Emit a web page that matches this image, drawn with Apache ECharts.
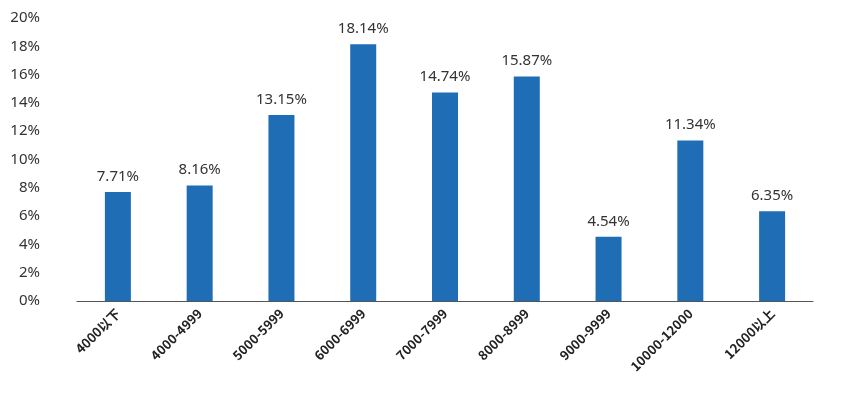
<!DOCTYPE html>
<html><head><meta charset="utf-8">
<script src="https://cdn.jsdelivr.net/npm/echarts@6/dist/echarts.min.js"></script>
<style>html,body{margin:0;padding:0;background:#fff}#c{width:843px;height:408px}</style>
</head><body><div id="c"></div>
<script>
const categories = ['4000以下','4000-4999','5000-5999','6000-6999','7000-7999','8000-8999','9000-9999','10000-12000','12000以上'];
const values = [7.71, 8.16, 13.15, 18.14, 14.74, 15.87, 4.54, 11.34, 6.35];
const chart = echarts.init(document.getElementById('c'));
chart.setOption({
  animation:false,
  grid:{left:77,right:30,top:18,bottom:107,containLabel:false},
  xAxis:{type:'category',data:categories,
    axisLine:{lineStyle:{color:'#555'}},axisTick:{show:false},
    axisLabel:{rotate:45,color:'#222',fontSize:13,fontFamily:'Noto Sans CJK SC, sans-serif',fontWeight:'bold',margin:10,interval:0}},
  yAxis:{type:'value',min:0,max:20,interval:2,
    splitLine:{show:false},axisLine:{show:false},axisTick:{show:false},
    axisLabel:{formatter:'{value}%',color:'#333',fontSize:15,margin:37,fontFamily:'Noto Sans, sans-serif'}},
  series:[{type:'bar',data:values,barWidth:26,itemStyle:{color:'#1f6db5'},
    label:{show:true,position:'top',distance:8,formatter:p=>p.value.toFixed(2)+'%',color:'#333',fontSize:15,fontFamily:'Noto Sans, sans-serif'}}]
});
</script></body></html>
